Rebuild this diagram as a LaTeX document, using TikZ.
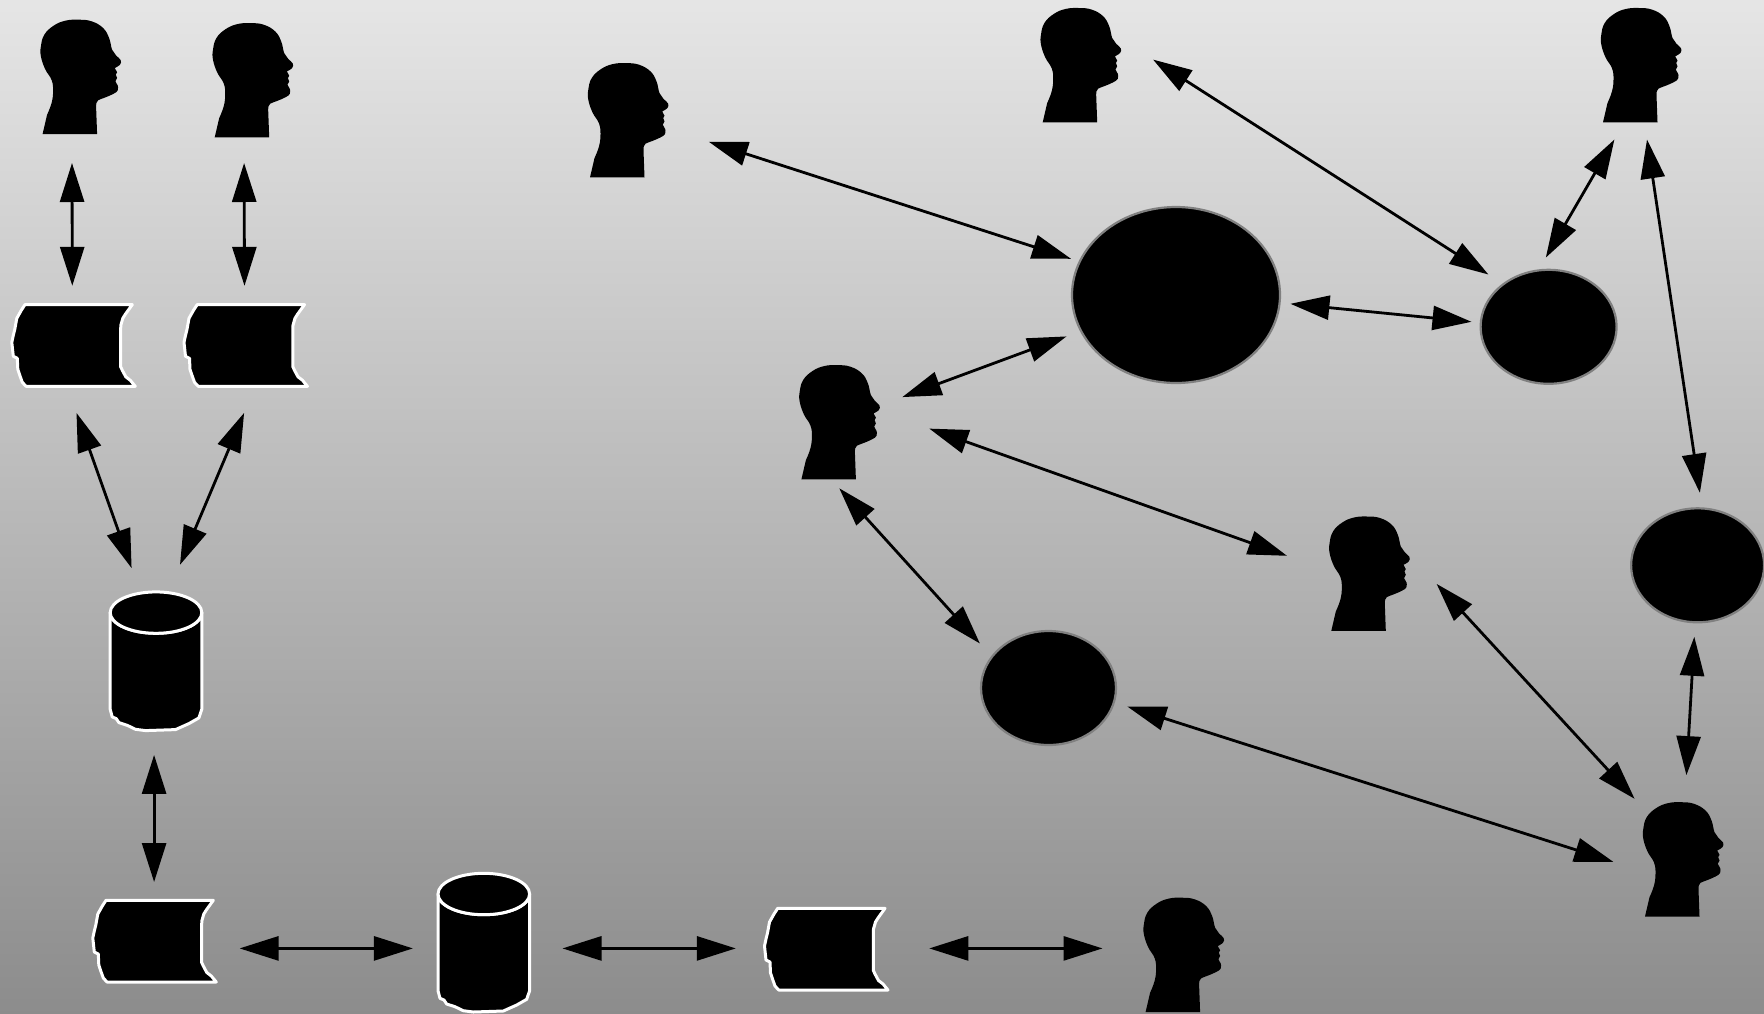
\documentclass[tikz,border=0pt]{standalone}
\usetikzlibrary{shapes,arrows.meta}
\tikzstyle{link} = [draw, line width=2.8pt, {Triangle[length=39pt,width=24pt]}-{Triangle[length=39pt,width=24pt]}]
\tikzstyle{server} = [ellipse, draw=gray, fill=black, line width=2.2pt, inner sep=0pt]
\tikzstyle{person} = [rectangle, inner sep=0pt, minimum width=90pt, minimum height=125pt, path picture={
	\fill [shift={(path picture bounding box.center)}] (-39,57) -- plot [smooth, tension=.7] coordinates {(-34.5,37.7) (-30,26) (-28.5,14) (-30,3) (-36.5,-8) (-40.7,-20.7) (-40.7,-30.7) (-37.3,-42.3) (-28,-51.3) (-16.3,-56.3) (-3,-57.3) (10,-55.7) (21.5,-49) (27.5,-39) (30.5,-27.3) (34.5,-21.5) (39,-17) (38.5,-12.5) (33.2,-9)} -- (35.5,-4.7) -- (34.2,-2.3) -- (35.5,1) -- (33.8,4.3) -- plot [smooth, tension=.7] coordinates {(36.2,8.7) (36.1,13.5) (31.5,17) (23.5,20.5) (16.5,23.3) (14.8,26) (14.5,30)} -- (15.5,57) -- cycle;
}]
\tikzstyle{tape} = [rectangle, inner sep=0pt, minimum width=136pt, minimum height=94pt, path picture={
	\draw [shift={(path picture bounding box.center)}, fill=black, draw=white, line width=3pt, line join=round] (-47.3,-40.7) -- (60,-40.7) -- (53,-31) -- (50.5,-27) -- (48.5,-20) -- (48.3,-12) -- (48.3,21.3) -- (50,25) -- (53.5,31.5) -- (58,35) -- (63,41) -- (-46.3,41) -- (-50,37) -- (-52.5,30) -- (-54.5,24) -- (-55,13) -- (-59,11) -- (-60.5,-3) -- (-59,-10) -- (-57.5,-16) -- (-55.5,-27) -- (-51,-35) -- cycle;
}]
\tikzstyle{drum} = [rectangle, inner sep=0pt, minimum width=100pt, minimum height=148pt, path picture={
	\begin{scope}[shift={(path picture bounding box.center)}, draw=white, line width=3pt, line join=round]
		\draw [fill=black] (-45.8,-48.7) arc [start angle=180, end angle=360, x radius=45.8, y radius=-20.7] -- (45.8,48) -- (42.9,56.6) -- (32.9,62.3) -- (19.5,68.3) -- (-10.5,69.3) -- (-20.5,68) -- (-28.8,64) -- (-37.1,61.3) -- (-39.8,57.3) -- (-43.8,55.6) -- (-45.8,48) -- cycle;
		\draw [fill=black] (0,-48.7) ellipse [x radius=45.8, y radius=20.7];
	\end{scope}
}]

\begin{document}
\begin{tikzpicture}[x=1pt, y=-1pt]
	\useasboundingbox (0,0) rectangle (1764,1013);
	\shade [top color=black!10, bottom color=black!45] (0,0) rectangle (1764,1013);

	\node [person] (head1) at (81.6,77) {};
	\node [person] (head2) at (253.7,80.4) {};
	\node [person] (head3) at (629,120.4) {};
	\node [person] (head4) at (1081.7,65.3) {};
	\node [person] (head5) at (1642,65.3) {};
	\node [person] (head6) at (840.4,422.4) {};
	\node [person] (head7) at (1370.3,573.8) {};
	\node [person] (head8) at (1684,859.5) {};
	\node [person] (head9) at (1184.6,955) {};

	\node [tape] (tape1) at (72.3,345.3) {};
	\node [tape] (tape2) at (244.5,345.3) {};
	\node [tape] (tape3) at (153.3,941) {};
	\node [tape] (tape4) at (825,949) {};

	\node [drum] (drum1) at (156,661.3) {};
	\node [drum] (drum2) at (483.8,942.7) {};

	\node [server, minimum width=208pt, minimum height=176pt] (big) at (1176,295) {};
	\node [server, minimum width=136pt, minimum height=114pt] (east) at (1548.6,326.8) {};
	\node [server, minimum width=133pt, minimum height=114pt] (edge) at (1697.6,565.3) {};
	\node [server, minimum width=135pt, minimum height=114pt] (south) at (1048.5,688) {};

	\path [link] ([shift={(-9.6,86)}]head1.center) -- ([shift={(0,-59.5)}]tape1.center);
	\path [link] ([shift={(-9.6,82.6)}]head2.center) -- ([shift={(0,-59.5)}]tape2.center);
	\path [link] ([shift={(4.2,67.6)}]tape1.center) -- ([shift={(-24.4,-93.2)}]drum1.center);
	\path [link] ([shift={(-0.4,67.6)}]tape2.center) -- ([shift={(24,-96.5)}]drum1.center);
	\path [link] ([shift={(-1.9,93.6)}]drum1.center) -- ([shift={(0.8,-59)}]tape3.center);
	\path [link] ([shift={(86.3,7.4)}]tape3.center) -- ([shift={(-70.9,5.7)}]drum2.center);
	\path [link] ([shift={(78.7,5.7)}]drum2.center) -- ([shift={(-89.2,-0.6)}]tape4.center);
	\path [link] ([shift={(104.3,-0.6)}]tape4.center) -- ([shift={(-82.1,-6.6)}]head9.center);

	\path [link] ([shift={(79.8,21.4)}]head3.center) -- ([shift={(-105,-36.2)}]big.center);
	\path [link] ([shift={(71.4,-5.7)}]head4.center) -- ([shift={(-60.2,-52.3)}]east.center);
	\path [link] ([shift={(114.4,8.8)}]big.center) -- ([shift={(-77.1,-5)}]east.center);
	\path [link] ([shift={(-27.6,74.2)}]head5.center) -- ([shift={(-2.8,-69.2)}]east.center);
	\path [link] ([shift={(5,74.2)}]head5.center) -- ([shift={(2.3,-72.5)}]edge.center);
	\path [link] ([shift={(-109.5,41.4)}]big.center) -- ([shift={(61.9,-25.3)}]head6.center);
	\path [link] ([shift={(88.9,6.2)}]head6.center) -- ([shift={(-83.3,-18)}]head7.center);
	\path [link] ([shift={(-1.1,65.9)}]head6.center) -- ([shift={(-68.6,-44.5)}]south.center);
	\path [link] ([shift={(66.3,10.1)}]head7.center) -- ([shift={(-49.4,-60.7)}]head8.center);
	\path [link] ([shift={(78.8,18.5)}]south.center) -- ([shift={(-70.7,2.3)}]head8.center);
	\path [link] ([shift={(-3.3,71.5)}]edge.center) -- ([shift={(2.4,-84.4)}]head8.center);
\end{tikzpicture}
\end{document}
